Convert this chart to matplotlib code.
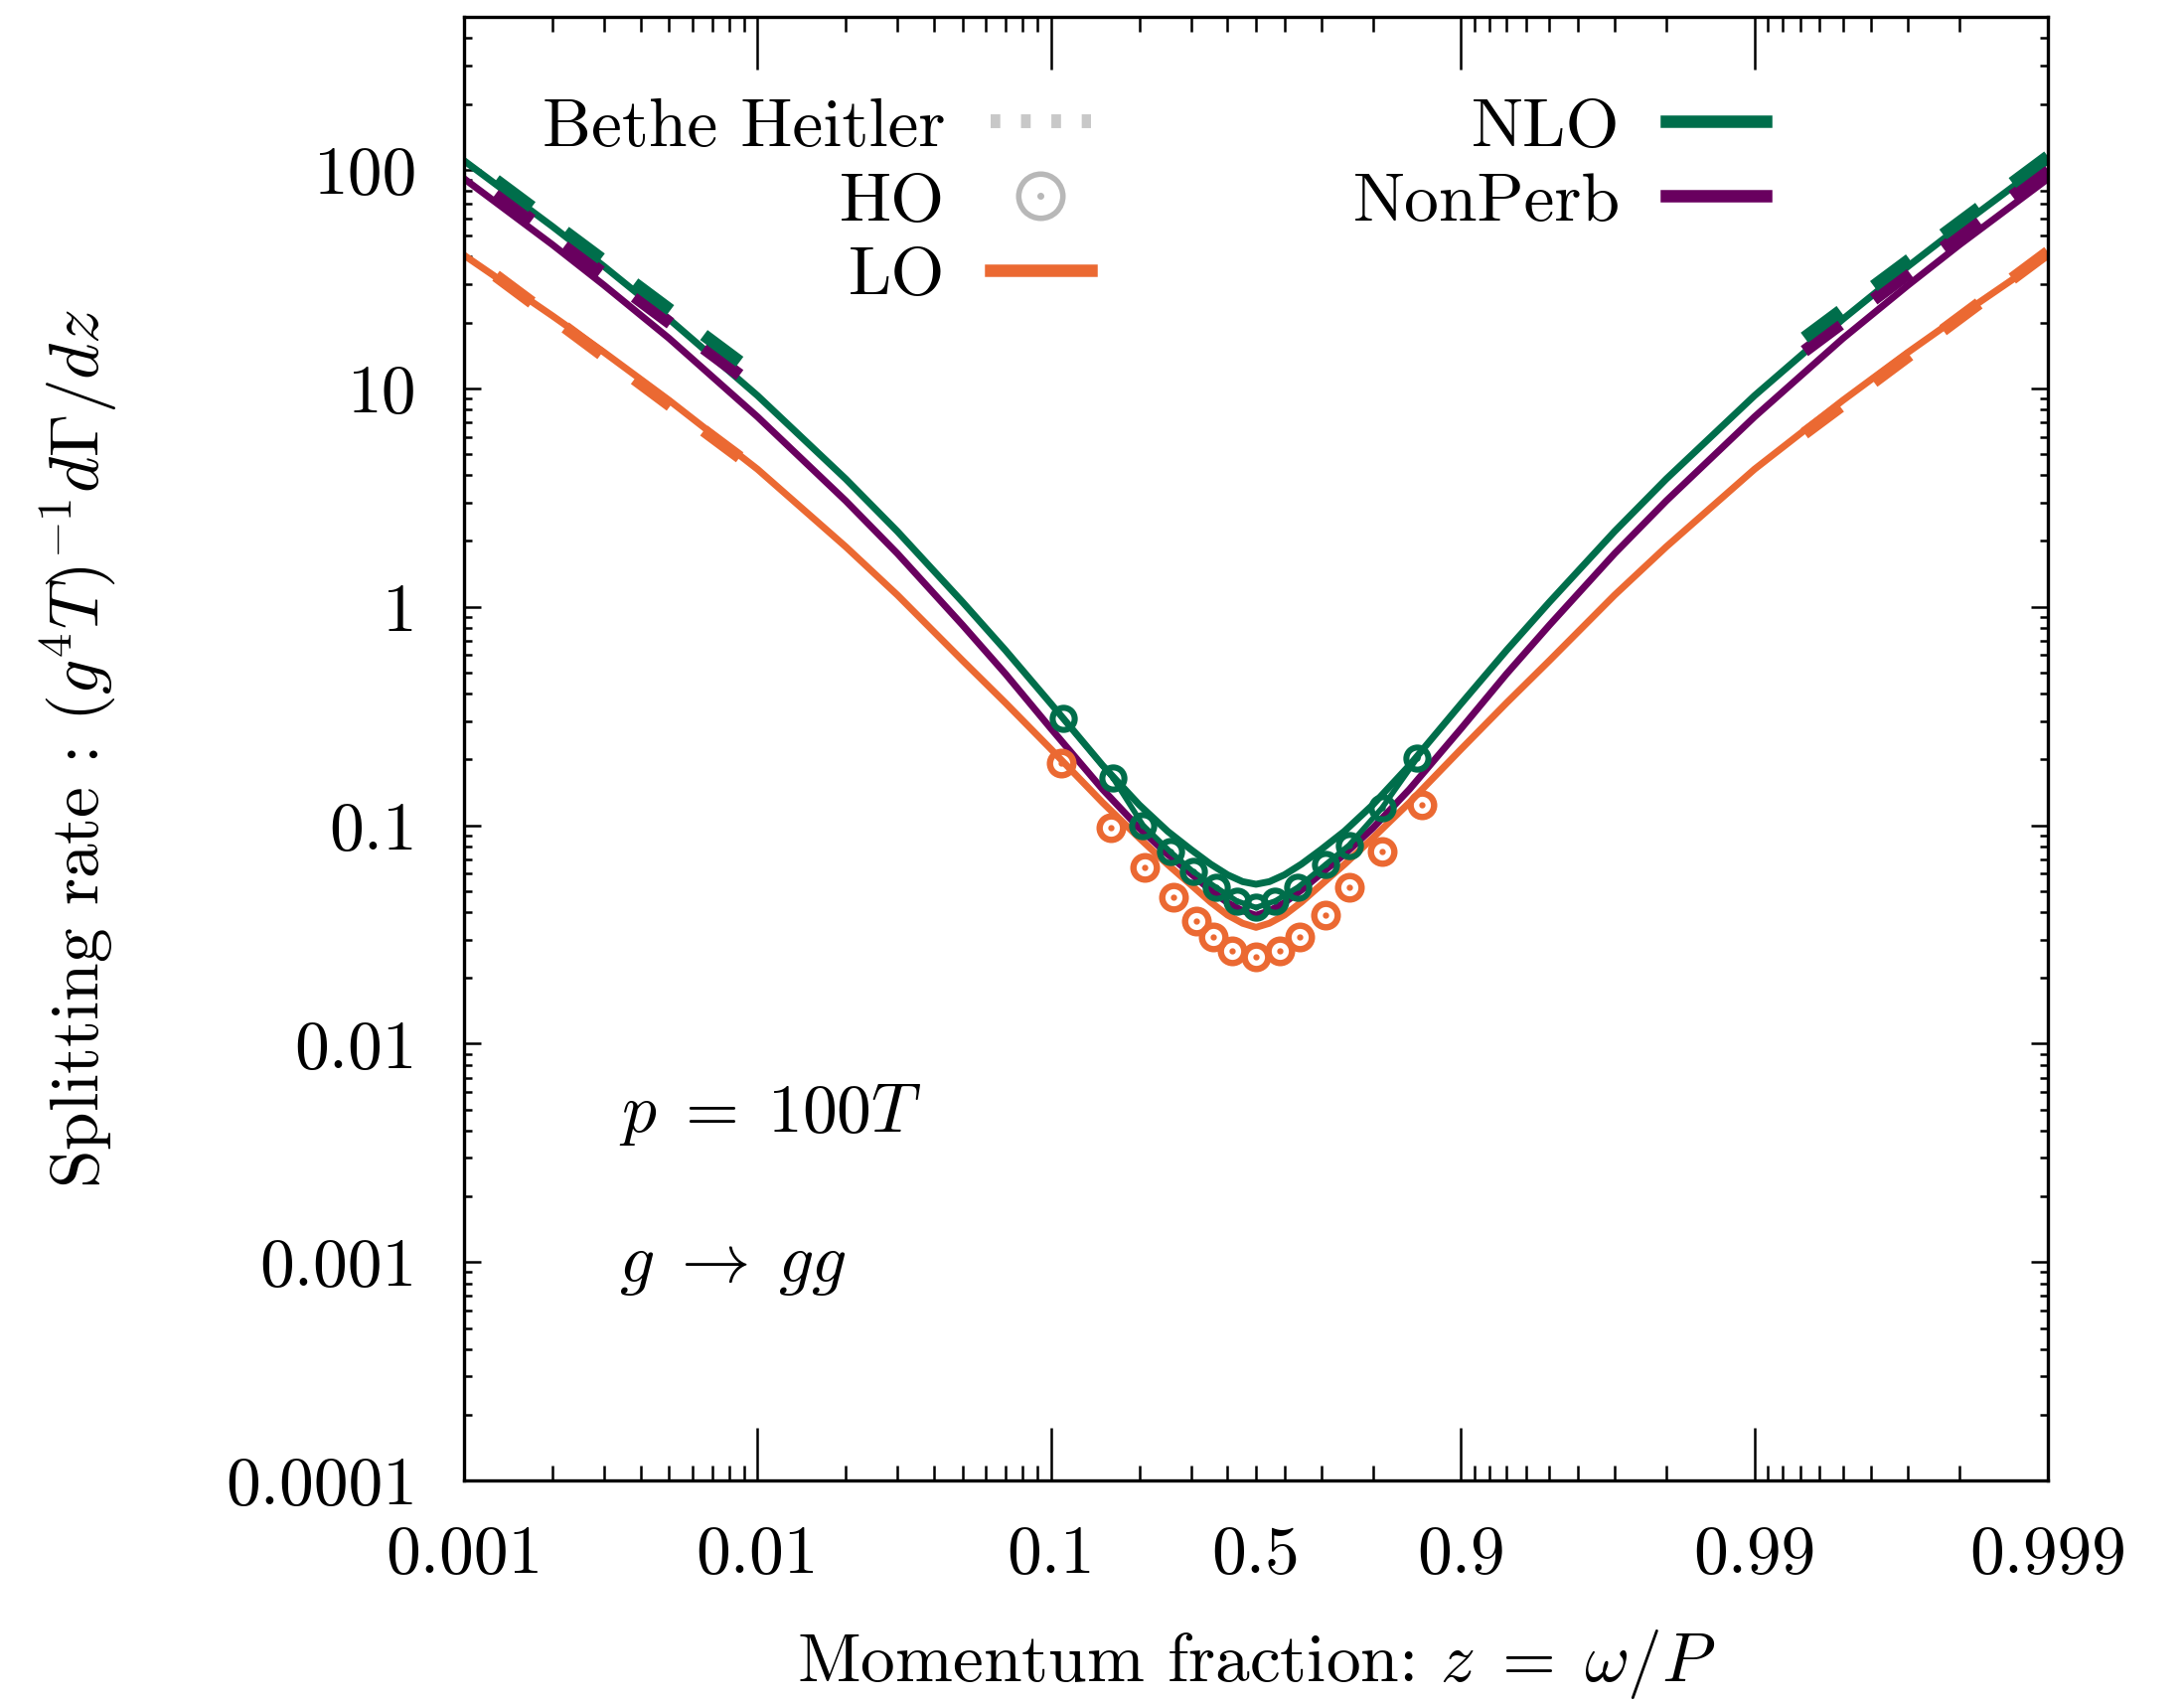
import numpy as np
import matplotlib
matplotlib.use('Agg')
import matplotlib.pyplot as plt
from matplotlib.lines import Line2D
from matplotlib.ticker import LogLocator, NullFormatter

plt.rcParams.update({
    "font.family": "serif",
    "font.serif": ["cmr10"],
    "mathtext.fontset": "cm",
    "axes.formatter.use_mathtext": True,
    "lines.scale_dashes": False,
})

# momentum fraction grid and rates
z = [0.001, 0.002, 0.003, 0.005, 0.01, 0.02, 0.03, 0.05, 0.07, 0.1, 0.15, 0.2, 0.25,
     0.3, 0.35, 0.4, 0.45, 0.5, 0.55, 0.6, 0.65, 0.7, 0.75, 0.8, 0.85, 0.9, 0.93,
     0.95, 0.97, 0.98, 0.99, 0.995, 0.997, 0.998, 0.999]
nlo = [110, 55, 36.1, 20.7, 9.25, 3.84, 2.21, 1.05, 0.632, 0.36, 0.188, 0.124, 0.0938,
       0.0774, 0.0664, 0.0593, 0.0552, 0.0537, 0.0552, 0.0593, 0.0664, 0.0774, 0.0938, 0.124, 0.188,
       0.36, 0.632, 1.05, 2.21, 3.84, 9.25, 20.7, 36.1, 55, 110]
nonperb = [91, 45.4, 29.6, 16.9, 7.4, 3.05, 1.75, 0.824, 0.493, 0.277, 0.146, 0.097, 0.0736,
           0.060, 0.0505, 0.0442, 0.0406, 0.0387, 0.0406, 0.0442, 0.0505, 0.060, 0.0736, 0.097, 0.146,
           0.277, 0.493, 0.824, 1.75, 3.05, 7.4, 16.9, 29.6, 45.4, 91]
lo = [40.6, 21.45, 14.6, 8.8, 4.26, 1.88, 1.13, 0.567, 0.363, 0.223, 0.127, 0.0874, 0.0661,
      0.0534, 0.0445, 0.0388, 0.0356, 0.0341, 0.0356, 0.0388, 0.0445, 0.0534, 0.0661, 0.0874, 0.127,
      0.223, 0.363, 0.567, 1.13, 1.88, 4.26, 8.8, 14.6, 21.45, 40.6]

# harmonic oscillator points
ho_nlo_z = [0.11, 0.163, 0.206, 0.255, 0.305, 0.365, 0.43, 0.5, 0.57, 0.64, 0.71, 0.759, 0.814, 0.859]
ho_nlo = [0.308, 0.164, 0.100, 0.0757, 0.0614, 0.052, 0.045, 0.042, 0.045, 0.052, 0.066, 0.081, 0.12, 0.203]
ho_lo_z = [0.108, 0.160, 0.209, 0.261, 0.312, 0.356, 0.416, 0.498, 0.584, 0.644, 0.71, 0.759, 0.814, 0.864]
ho_lo = [0.192, 0.098, 0.064, 0.047, 0.0364, 0.0308, 0.0265, 0.0249, 0.0265, 0.0308, 0.039, 0.052, 0.0757, 0.124]

# Bethe Heitler limits near the edges
bh_left_z = [0.001, 0.01]
bh_right_z = [0.992, 0.999]
bh_nlo_left = [115, 11.5]
bh_nlo_right = [14.4, 115]
bh_np_left = [100, 10.0]
bh_np_right = [12.5, 100]
bh_lo_left = [42, 4.2]
bh_lo_right = [5.25, 42]

xticks = [0.001, 0.01, 0.1, 0.9, 0.99, 0.999]
xticklabels = ['0.001', '0.01', '0.1', '0.9', '0.99', '0.999']
xminor = [0.002, 0.003, 0.004, 0.005, 0.006, 0.007, 0.008, 0.009,
          0.02, 0.03, 0.04, 0.05, 0.06, 0.07, 0.08, 0.09,
          0.2, 0.3, 0.4, 0.5, 0.6, 0.7, 0.8,
          0.91, 0.92, 0.93, 0.94, 0.95, 0.96, 0.97, 0.98,
          0.991, 0.992, 0.993, 0.994, 0.995, 0.996, 0.997, 0.998]
yticks = [1e-4, 1e-3, 1e-2, 1e-1, 1, 10, 100]
yticklabels = ['0.0001', '0.001', '0.01', '0.1', '1', '10', '100']

green = '#006e4b'
purple = '#69005f'
orange = '#eb6932'

half = np.log10(0.5)


def fwd(x):
    x = np.asarray(x, dtype=float)
    with np.errstate(divide='ignore', invalid='ignore'):
        return np.where(x <= 0.5, np.log10(x), 2 * half - np.log10(1 - x))


def inv(t):
    t = np.asarray(t, dtype=float)
    with np.errstate(over='ignore', invalid='ignore'):
        return np.where(t <= half, 10.0 ** t, 1 - 10.0 ** (2 * half - t))


fig = plt.figure(figsize=(10.99, 8.565), dpi=200)
ax = fig.add_axes([0.2125, 0.130, 0.7252, 0.860])
ax.set_xscale('function', functions=(fwd, inv))
ax.set_yscale('log')

lw = 2.5
ax.plot(z, lo, color=orange, lw=lw)
ax.plot(z, nonperb, color=purple, lw=lw)
ax.plot(z, nlo, color=green, lw=lw)

ax.plot(ho_lo_z, ho_lo, ls='none', marker='o', ms=8.5, mfc='none', mec=orange, mew=2.3)
ax.plot(ho_lo_z, ho_lo, ls='none', marker='.', ms=2.5, color=orange)
ax.plot(ho_nlo_z, ho_nlo, color=green, lw=2, marker='o', ms=8, mfc='none', mec=green, mew=2.2)
ax.plot(ho_nlo_z, ho_nlo, ls='none', marker='.', ms=2.5, color=green)

bh_ls_left = (16.9, (16.2, 15.1))
bh_ls_right = (21.6, (16.2, 15.1))
for zz, left, c in [(bh_left_z, bh_lo_left, orange), (bh_left_z, bh_np_left, purple),
                    (bh_left_z, bh_nlo_left, green)]:
    ax.plot(zz, left, color=c, lw=4.5, ls=bh_ls_left, solid_capstyle='butt')
for zz, right, c in [(bh_right_z, bh_lo_right, orange), (bh_right_z, bh_np_right, purple),
                     (bh_right_z, bh_nlo_right, green)]:
    ax.plot(zz, right, color=c, lw=4.5, ls=bh_ls_right, solid_capstyle='butt')

ax.set_xlim(0.001, 0.999)
ax.set_ylim(1e-4, 500)

ax.set_xticks(xticks)
ax.set_xticklabels(xticklabels)
ax.set_xticks(xminor, minor=True)
ax.set_xticklabels(['0.5' if m == 0.5 else '' for m in xminor], minor=True)
ax.set_yticks(yticks)
ax.set_yticklabels(yticklabels)
ax.yaxis.set_minor_locator(LogLocator(base=10, subs=np.arange(2, 10)))
ax.yaxis.set_minor_formatter(NullFormatter())

ax.tick_params(axis='both', which='both', direction='in', top=True, right=True,
               labelsize=25, width=0.9)
ax.tick_params(axis='x', which='major', length=19, pad=16)
ax.tick_params(axis='x', which='minor', length=5.5, pad=16)
ax.tick_params(axis='y', which='major', length=6, pad=17)
ax.tick_params(axis='y', which='minor', length=3)
for s in ax.spines.values():
    s.set_linewidth(1.2)

ax.set_xlabel(r'Momentum fraction: $z\;=\;\omega/P$', fontsize=25)
ax.xaxis.set_label_coords(0.5, -0.10)
ax.set_ylabel(r'Splitting rate : $(g^4T)^{-1}d\Gamma/dz$', fontsize=25)
ax.yaxis.set_label_coords(-0.218, 0.5)

ax.text(0.098, 0.25, r'$p\;=\;100T$', transform=ax.transAxes, fontsize=25, va='center')
ax.text(0.098, 0.146, r'$g\;\rightarrow\;gg$', transform=ax.transAxes, fontsize=25, va='center')

bh_h = Line2D([], [], color='#c8c8c8', lw=5, ls=(0, (3.5, 7.5)))
ho_h = (Line2D([], [], ls='none', marker='o', ms=16, mfc='none', mec='#b8b8b8', mew=2),
        Line2D([], [], ls='none', marker='.', ms=3, color='#b8b8b8'))
lo_h = Line2D([], [], color=orange, lw=4.5)
nlo_h = Line2D([], [], color=green, lw=4.5)
np_h = Line2D([], [], color=purple, lw=4.5)
ax.legend([bh_h, ho_h, lo_h, nlo_h, np_h], ['Bethe Heitler', 'HO', 'LO', 'NLO', 'NonPerb'],
          ncols=2, markerfirst=False, frameon=False, fontsize=25,
          loc='upper right', bbox_to_anchor=(0.822, 0.945), borderpad=0, borderaxespad=0,
          handlelength=1.45, handletextpad=0.66, columnspacing=3.8, labelspacing=0.19)

fig.savefig('out.png', dpi=200)
